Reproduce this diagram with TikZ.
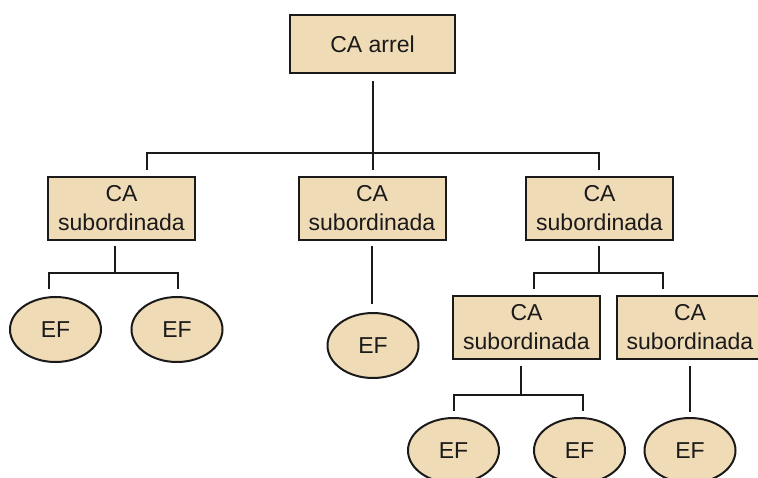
\documentclass[tikz,border=0pt]{standalone}
\usepackage{fontspec}
\setmainfont{Liberation Sans}
\usetikzlibrary{shapes.geometric}
\definecolor{tan}{HTML}{F0DBB7}
\definecolor{ink}{HTML}{1A1A1A}
\begin{document}
\begin{tikzpicture}[x=1pt,y=-1pt,
  box/.style={draw=ink, line width=2pt, fill=tan, minimum width=147pt, minimum height=63pt, inner sep=0pt, align=center, text=ink, font=\fontsize{23}{29}\selectfont},
  leaf/.style={ellipse, draw=ink, line width=2pt, fill=tan, minimum width=91pt, minimum height=65pt, inner sep=0pt, text=ink, font=\fontsize{23}{29}\selectfont},
  conn/.style={draw=ink, line width=2pt},
]
\useasboundingbox (0,0) rectangle (758,477);
\clip (0,0) rectangle (758,477);
% nodes
\node[box, minimum width=165pt, minimum height=58pt] (root) at (372.5,44) {CA arrel};
\node[box] (l1) at (121.5,208) {CA\\subordinada};
\node[box] (m1) at (372,208) {CA\\subordinada};
\node[box] (r1) at (599.5,208) {CA\\subordinada};
\node[box] (r2a) at (526.5,327.5) {CA\\subordinada};
\node[box] (r2b) at (690,327.5) {CA\\subordinada};
\node[leaf] (e1) at (55.5,329.5) {EF};
\node[leaf] (e2) at (177,329.5) {EF};
\node[leaf] (e3) at (373,345.5) {EF};
\node[leaf] (e4) at (453.5,450.5) {EF};
\node[leaf] (e5) at (579.5,450.5) {EF};
\node[leaf] (e6) at (690,450.5) {EF};
% junction coordinates
\coordinate (b0l) at (147,153);
\coordinate (b0r) at (599,153);
\coordinate (j1) at (115,273);
\coordinate (b1l) at (49,273);
\coordinate (b1r) at (178,273);
\coordinate (j2) at (599,273);
\coordinate (b2l) at (534,273);
\coordinate (b2r) at (663,273);
\coordinate (j3) at (521,395);
\coordinate (b3l) at (454,395);
\coordinate (b3r) at (583,395);
% connectors
\draw[conn, shorten <=7pt, shorten >=6pt] (root.south) -- (root.south |- m1.north);
\draw[conn, shorten <=6pt, shorten >=6pt] (b0l |- l1.north) -- (b0l) -- (b0r) -- (b0r |- r1.north);
\draw[conn, shorten <=5pt] (j1 |- l1.south) -- (j1);
\draw[conn, shorten <=7pt, shorten >=7pt] (b1l |- e1.north) -- (b1l) -- (b1r) -- (b1r |- e2.north);
\draw[conn, shorten <=5pt, shorten >=8pt] (m1.south) -- (m1.south |- e3.north);
\draw[conn, shorten <=5pt] (j2 |- r1.south) -- (j2);
\draw[conn, shorten <=6pt, shorten >=6pt] (b2l |- r2a.north) -- (b2l) -- (b2r) -- (b2r |- r2b.north);
\draw[conn, shorten <=6pt] (j3 |- r2a.south) -- (j3);
\draw[conn, shorten <=6pt, shorten >=6pt] (b3l |- e4.north) -- (b3l) -- (b3r) -- (b3r |- e5.north);
\draw[conn, shorten <=6pt, shorten >=5pt] (r2b.south) -- (r2b.south |- e6.north);
\end{tikzpicture}
\end{document}
